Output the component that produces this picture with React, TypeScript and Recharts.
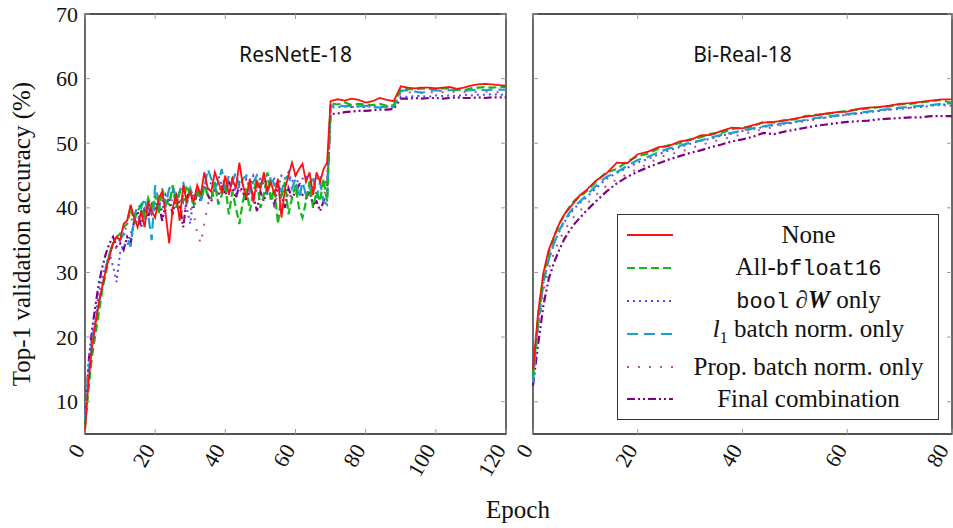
import React from "react";
import { LineChart, Line, XAxis, YAxis, ReferenceArea } from "recharts";

// ---- ResNetE-18 (left panel) ----
const epochsLeft = [
  0, 1, 2, 3, 4, 5, 6, 7, 8, 9, 10, 11, 12, 13, 14, 15, 16, 17, 18, 19,
  20, 21, 22, 23, 24, 25, 26, 27, 28, 29, 30, 31, 32, 33, 34, 35, 36, 37, 38, 39,
  40, 41, 42, 43, 44, 45, 46, 47, 48, 49, 50, 51, 52, 53, 54, 55, 56, 57, 58, 59,
  60, 61, 62, 63, 64, 65, 66, 67, 68, 69,
  70, 72, 74, 76, 78, 80, 82, 84, 86, 88, 90, 92, 94, 96, 98, 100, 102, 104, 106, 108, 110, 112, 114, 116, 118, 120,
];

const noneLeft = [
  5.5, 13, 18.5, 22, 25.5, 28, 30.5, 32.5, 34.5, 35.5, 35, 37.5, 38, 40.5, 38.5, 37, 39.5, 37, 41, 39.5,
  38.5, 41.5, 42.5, 39, 34.5, 40, 42, 38, 43.5, 41, 42.5, 41, 43.5, 42, 45.5, 43, 42.5, 45.5, 44, 42.5,
  45, 42, 44.5, 43, 47, 43.5, 41.5, 44.5, 41, 44, 43, 45.5, 42.5, 44, 42, 44.5, 38.5, 43, 45, 47,
  45, 46, 46.8, 44, 45.5, 42, 45.5, 44, 46, 47,
  56.5, 56.8, 56.6, 56.9, 56.7, 56.3, 56.5, 57.0, 56.7, 56.5, 58.8, 58.6, 58.5, 58.6, 58.6, 58.5, 58.6, 58.7, 58.4, 58.6, 58.9, 59.1, 59.2, 59.1, 59.0, 58.9,
];

const bf16Left = [
  6, 12, 17, 20.5, 24, 27.5, 30, 33, 34.5, 35.5, 36, 37, 37.5, 40, 38, 39.5, 40.5, 38.5, 41.5, 40,
  42, 39, 43, 41, 40.5, 43.5, 40, 42.5, 41, 43.5, 42, 40.5, 43, 41.5, 43.5, 42, 41.5, 44, 40.5, 42,
  43.5, 39, 42.5, 40, 37.5, 41, 43, 39.5, 42.5, 44.5, 40, 42, 45.5, 41, 43, 37.5, 42, 44, 39, 41.5,
  43.5, 40, 38.5, 41, 44, 40, 42.5, 41, 44.5, 41,
  56.2, 56.0, 56.3, 55.9, 56.1, 56.0, 55.9, 56.1, 55.8, 55.9, 58.3, 58.4, 58.3, 58.5, 58.4, 58.4, 58.5, 58.5, 58.3, 58.2, 58.5, 58.6, 58.7, 58.6, 58.7, 58.7,
];

const boolLeft = [
  8, 15, 20, 23.5, 27, 29.5, 31, 32.5, 31, 28.5, 33, 34.5, 34, 36, 37.5, 38, 39.5, 38, 40, 39,
  40.5, 41.5, 39.5, 42, 41, 42.5, 41, 39, 42, 40, 37.5, 42, 43, 41.5, 43.5, 42.5, 44, 43, 45, 43.5,
  44, 43, 44.5, 42, 44, 43.5, 44.5, 43, 45, 44, 44.5, 43.5, 45.5, 44, 44.5, 43, 45, 44.5, 45.5, 44,
  45, 43.5, 44.5, 45, 44, 43, 44.5, 45, 43.5, 44.5,
  55.5, 55.6, 55.7, 55.6, 55.7, 55.6, 55.7, 55.6, 55.7, 55.7, 57.2, 57.2, 57.3, 57.3, 57.2, 57.4, 57.3, 57.4, 57.3, 57.5, 57.4, 57.5, 57.5, 57.6, 57.5, 57.5,
];

const l1Left = [
  7, 14.5, 19, 22.5, 25.5, 28, 31, 33, 34.5, 34.5, 35, 36, 35.5, 34, 38.5, 40.5, 40, 41.5, 39, 35,
  43.5, 41, 42, 40.5, 43, 43.5, 41, 42.5, 44, 40.5, 43, 41.5, 42.5, 41, 43, 46, 44.5, 43, 44, 46,
  42.5, 45, 44, 45.5, 43, 44.5, 45, 42.5, 44, 45, 43.5, 44.5, 42, 45, 43.5, 44, 42.5, 44.5, 45, 43,
  44.5, 41.5, 44, 42, 43, 45, 41.5, 44, 41, 40.5,
  55.8, 55.9, 55.7, 55.8, 55.7, 55.8, 55.6, 55.5, 55.7, 55.6, 58.1, 58.2, 58.0, 57.8, 58.1, 58.2, 58.1, 58.2, 58.3, 58.1, 58.2, 58.3, 58.2, 58.3, 58.3, 58.3,
];

const propLeft = [
  7, 14, 19.5, 23, 26, 28, 30, 32, 33, 34, 35, 36.5, 37, 38, 38.5, 38, 39.5, 40, 39, 40.5,
  41, 40, 41.5, 39.5, 42, 41, 40.5, 42, 38, 41.5, 40, 39, 36, 34.5, 37.5, 40.5, 42, 42.5, 41, 43,
  42.5, 43.5, 42, 43.5, 43, 42, 43.5, 42.5, 41, 43, 42.5, 41.5, 43, 42, 40, 42.5, 41.5, 43, 41, 42.5,
  42, 43, 41.5, 42.5, 43, 41.5, 42.5, 43.5, 42, 43,
  55.8, 55.7, 55.8, 55.6, 55.7, 55.6, 55.7, 55.5, 55.6, 55.6, 57.8, 57.9, 57.8, 57.9, 57.9, 57.8, 57.9, 58.0, 57.9, 57.9, 58.0, 57.9, 58.0, 58.0, 57.9, 58.0,
];

const finalLeft = [
  6.5, 16, 21, 25, 28.5, 31, 33, 34.5, 35.5, 34, 34.5, 33.5, 35.5, 34.5, 38, 39.5, 37, 40, 38.5, 40.5,
  39.5, 41, 38, 40.5, 41.5, 39, 42, 40.5, 37, 41.5, 43, 40, 42.5, 41, 43.5, 42, 41, 43, 42, 43.5,
  42, 44, 43, 41.5, 43.5, 42.5, 41, 43, 42, 39.5, 42.5, 41, 43, 42, 40.5, 43.5, 42, 40, 43, 41.5,
  42.5, 43.5, 42, 41.5, 42.5, 40.5, 41, 39.5, 41, 42.5,
  54.5, 54.6, 54.8, 54.9, 55.0, 55.0, 55.1, 55.2, 55.2, 55.3, 56.9, 56.9, 57.0, 56.9, 57.0, 57.0, 56.9, 57.0, 57.1, 57.0, 57.0, 57.1, 57.0, 57.1, 57.1, 57.1,
];

// ---- Bi-Real-18 (right panel) ----
const epochsRight = [
  0, 1, 2, 3, 4, 5, 6, 7, 8, 9, 10, 12, 14, 16, 18, 20, 22, 24, 26, 28, 30, 32, 34, 36, 38,
  40, 42, 44, 46, 48, 50, 52, 54, 56, 58, 60, 62, 64, 66, 68, 70, 72, 74, 76, 78, 80,
];

const noneRight = [
  15, 24, 30, 33.5, 35.5, 37.5, 39, 40, 41, 42, 42.6, 44.2, 45.3, 47.0, 46.9, 48.3, 48.7, 49.4, 49.6, 50.3, 50.5, 51.2, 51.3, 51.9, 52.4,
  52.3, 52.8, 53.2, 53.3, 53.5, 53.8, 54.1, 54.3, 54.6, 54.8, 54.9, 55.3, 55.5, 55.6, 55.8, 56.1, 56.2, 56.4, 56.6, 56.8, 56.8,
];
const bf16Right = [
  14, 23, 29.5, 33, 35.5, 37.5, 39, 40.2, 41.2, 41.8, 42.4, 44.0, 45.5, 46.0, 47.2, 48.0, 48.4, 49.2, 49.7, 50.0, 50.6, 50.9, 51.5, 51.6, 52.2,
  52.4, 52.6, 53.3, 53.2, 53.6, 53.7, 54.2, 54.4, 54.5, 54.8, 55.0, 55.2, 55.4, 55.6, 55.7, 56.0, 56.1, 56.3, 56.5, 56.7, 56.2,
];
const boolRight = [
  13.5, 22.5, 28.5, 32, 34.5, 36.3, 37.8, 39, 40, 40.8, 41.5, 43.0, 44.5, 45.4, 46.2, 47.0, 47.6, 48.3, 48.9, 49.4, 49.9, 50.4, 50.7, 51.2, 51.5,
  51.9, 52.2, 52.5, 52.8, 53.0, 53.3, 53.5, 53.8, 54.0, 54.2, 54.4, 54.6, 54.8, 55.0, 55.2, 55.3, 55.5, 55.6, 55.8, 55.9, 55.8,
];
const l1Right = [
  13, 22, 28.5, 32, 34.5, 36.5, 38, 39.3, 40.3, 41, 41.8, 43.4, 44.8, 45.5, 46.5, 47.4, 47.9, 48.6, 49.2, 49.6, 50.1, 50.4, 50.9, 51.3, 51.6,
  52.0, 52.3, 52.6, 52.9, 53.1, 53.3, 53.6, 53.9, 54.1, 54.3, 54.5, 54.7, 54.9, 55.1, 55.3, 55.5, 55.6, 55.8, 55.9, 56.1, 56.2,
];
const propRight = [
  14, 21, 27, 30.5, 33, 35, 36.5, 37.8, 38.8, 39.6, 40.4, 42.0, 43.4, 44.4, 45.2, 46.1, 46.8, 47.8, 48.3, 48.6, 49.2, 49.7, 50.2, 50.6, 51.0,
  51.4, 51.8, 52.2, 52.5, 52.9, 53.2, 53.4, 53.7, 54.0, 54.2, 54.4, 54.6, 54.8, 55.0, 55.2, 55.4, 55.5, 55.7, 55.9, 56.0, 56.1,
];
const finalRight = [
  12.5, 19, 25, 29, 31.5, 33.5, 35.2, 36.5, 37.6, 38.5, 39.4, 41.0, 42.5, 43.8, 44.8, 45.6, 46.3, 46.9, 47.5, 48.0, 48.5, 48.9, 49.4, 49.8, 50.3,
  50.6, 51.0, 51.6, 51.4, 51.8, 52.1, 52.4, 52.7, 52.9, 53.1, 53.3, 53.4, 53.5, 53.7, 53.8, 53.9, 54.0, 54.0, 54.2, 54.2, 54.2,
];

const yTicks = [10, 20, 30, 40, 50, 60, 70];
const xTicksLeft = [0, 20, 40, 60, 80, 100, 120];
const xTicksRight = [0, 20, 40, 60, 80];

const seriesNames = ["None", "All-bfloat16", "bool ∂W only", "l1 batch norm. only", "Prop. batch norm. only", "Final combination"];

const leftData = epochsLeft.map((epoch, i) => ({
  epoch,
  none: noneLeft[i],
  bf16: bf16Left[i],
  bool: boolLeft[i],
  l1: l1Left[i],
  prop: propLeft[i],
  final: finalLeft[i],
}));

const rightData = epochsRight.map((epoch, i) => ({
  epoch,
  none: noneRight[i],
  bf16: bf16Right[i],
  bool: boolRight[i],
  l1: l1Right[i],
  prop: propRight[i],
  final: finalRight[i],
}));

const styles = [
  { key: "final", color: "#800080", dash: "8 3 2 3 2 3", width: 2.2 },
  { key: "prop", color: "#c0508f", dash: "2 9", width: 2 },
  { key: "bool", color: "#4b4bff", dash: "2 4", width: 2 },
  { key: "l1", color: "#1c9fca", dash: "11 6", width: 2.2 },
  { key: "bf16", color: "#14b814", dash: "8 4", width: 2.2 },
  { key: "none", color: "#ff1010", dash: undefined, width: 1.8 },
];

const SERIF = "'Liberation Serif', 'Times New Roman', serif";
const MONO = "'Liberation Mono', monospace";
const TOP = 14;
const PLOT_H = 420;
const TICK = "#9a9a9a";

function makeYTick(plotW: number, showLabel: boolean) {
  return (props: any) => {
    const { x, y, payload } = props;
    return (
      <g>
        <line x1={x} y1={y} x2={x + 5} y2={y} stroke={TICK} strokeWidth={1} />
        <line x1={x + plotW - 5} y1={y} x2={x + plotW} y2={y} stroke={TICK} strokeWidth={1} />
        {showLabel && (
          <text x={x - 7} y={y} textAnchor="end" dominantBaseline="central" fontFamily={SERIF} fontSize={22} fill="#111">
            {payload.value}
          </text>
        )}
      </g>
    );
  };
}

function makeXTick(edge: number) {
  return (props: any) => {
    const { x, y, payload } = props;
    // keep the last label inside the page edge
    const ax = x > edge ? x - 9 : x - 6;
    const ay = y + 12;
    return (
      <g>
        <line x1={x} y1={y} x2={x} y2={y - 5} stroke={TICK} strokeWidth={1} />
        <line x1={x} y1={y - PLOT_H} x2={x} y2={y - PLOT_H + 5} stroke={TICK} strokeWidth={1} />
        <text
          x={ax}
          y={ay}
          textAnchor="end"
          dominantBaseline="central"
          transform={`rotate(-60, ${ax}, ${ay})`}
          fontFamily={SERIF}
          fontSize={22}
          fill="#111"
        >
          {payload.value}
        </text>
      </g>
    );
  };
}

function Panel({ data, xMax, xTicks, left, width, right, title, showY, edge }: any) {
  const plotW = width - left - right;
  return (
    <LineChart
      width={width}
      height={528}
      data={data}
      margin={{ top: TOP, left: 0, right, bottom: 0 }}
    >
      <XAxis
        dataKey="epoch"
        type="number"
        domain={[0, xMax]}
        ticks={xTicks}
        interval={0}
        height={528 - TOP - PLOT_H}
        tickSize={0}
        tickMargin={0}
        axisLine={false}
        tickLine={false}
        tick={makeXTick(edge)}
      />
      <YAxis
        domain={[5, 70]}
        ticks={yTicks}
        interval={0}
        width={left}
        tickSize={0}
        tickMargin={0}
        axisLine={false}
        tickLine={false}
        allowDataOverflow
        tick={makeYTick(plotW, showY)}
      />
      {styles.map((s) => (
        <Line
          key={s.key}
          type="linear"
          dataKey={s.key}
          stroke={s.color}
          strokeWidth={s.width}
          strokeDasharray={s.dash}
          dot={false}
          isAnimationActive={false}
        />
      ))}
      <ReferenceArea x1={0} x2={xMax} y1={5} y2={70} fill="none" stroke="#1a1a1a" strokeWidth={1.3} ifOverflow="visible" />
      <text x={left + plotW / 2} y={62} textAnchor="middle" fontFamily="'Noto Sans', sans-serif" fontSize={21} fill="#111">
        {title}
      </text>
    </LineChart>
  );
}

function LegendSample({ color, dash, width }: any) {
  return (
    <svg width={50} height={10} style={{ display: "block" }}>
      <line x1={2} y1={5} x2={48} y2={5} stroke={color} strokeWidth={width} strokeDasharray={dash} />
    </svg>
  );
}

function LegendLabel({ i }: { i: number }) {
  if (i === 1)
    return (
      <span>
        All-<span style={{ fontFamily: MONO, fontSize: 22 }}>bfloat16</span>
      </span>
    );
  if (i === 2)
    return (
      <span>
        <span style={{ fontFamily: MONO, fontSize: 22 }}>bool</span> <i>∂</i>
        <b>
          <i>W</i>
        </b>{" "}
        only
      </span>
    );
  if (i === 3)
    return (
      <span>
        <i>l</i>
        <sub style={{ fontSize: 16 }}>1</sub> batch norm. only
      </span>
    );
  return <span>{seriesNames[i]}</span>;
}

export default function App() {
  const legendOrder = ["none", "bf16", "bool", "l1", "prop", "final"];
  return (
    <div style={{ position: "absolute", left: 0, top: 0, width: 953, height: 528, background: "#fff", fontFamily: SERIF, overflow: "hidden" }}>
      <div style={{ position: "absolute", left: 0, top: 0 }}>
        <Panel data={leftData} xMax={120} xTicks={xTicksLeft} left={85} width={530} right={24} title="ResNetE-18" showY edge={9999} />
      </div>
      <div style={{ position: "absolute", left: 500, top: 0 }}>
        <Panel data={rightData} xMax={80} xTicks={xTicksRight} left={33} width={453} right={1} title="Bi-Real-18" showY={false} edge={430} />
      </div>
      <div
        style={{
          position: "absolute",
          left: 22,
          top: 234,
          transform: "translate(-50%, -50%) rotate(-90deg)",
          whiteSpace: "nowrap",
          fontSize: 25,
          lineHeight: "28px",
          color: "#111",
        }}
      >
        Top-1 validation accuracy (%)
      </div>
      <div style={{ position: "absolute", left: 518, top: 510, transform: "translate(-50%, -50%)", fontSize: 25, color: "#111" }}>
        Epoch
      </div>
      <div
        style={{
          position: "absolute",
          left: 617,
          top: 214,
          width: 322,
          height: 206,
          border: "1px solid #333",
          background: "#fff",
          boxSizing: "border-box",
          paddingTop: 4,
        }}
      >
        {legendOrder.map((k, i) => {
          const s = styles.find((st) => st.key === k)!;
          return (
            <div key={k} style={{ display: "flex", alignItems: "center", height: 32.8 }}>
              <div style={{ width: 58, paddingLeft: 7 }}>
                <LegendSample color={s.color} dash={s.dash} width={s.width} />
              </div>
              <div style={{ flex: 1, textAlign: "center", fontSize: 25, lineHeight: "30px", color: "#111", whiteSpace: "nowrap", paddingRight: 4 }}>
                <LegendLabel i={i} />
              </div>
            </div>
          );
        })}
      </div>
    </div>
  );
}
